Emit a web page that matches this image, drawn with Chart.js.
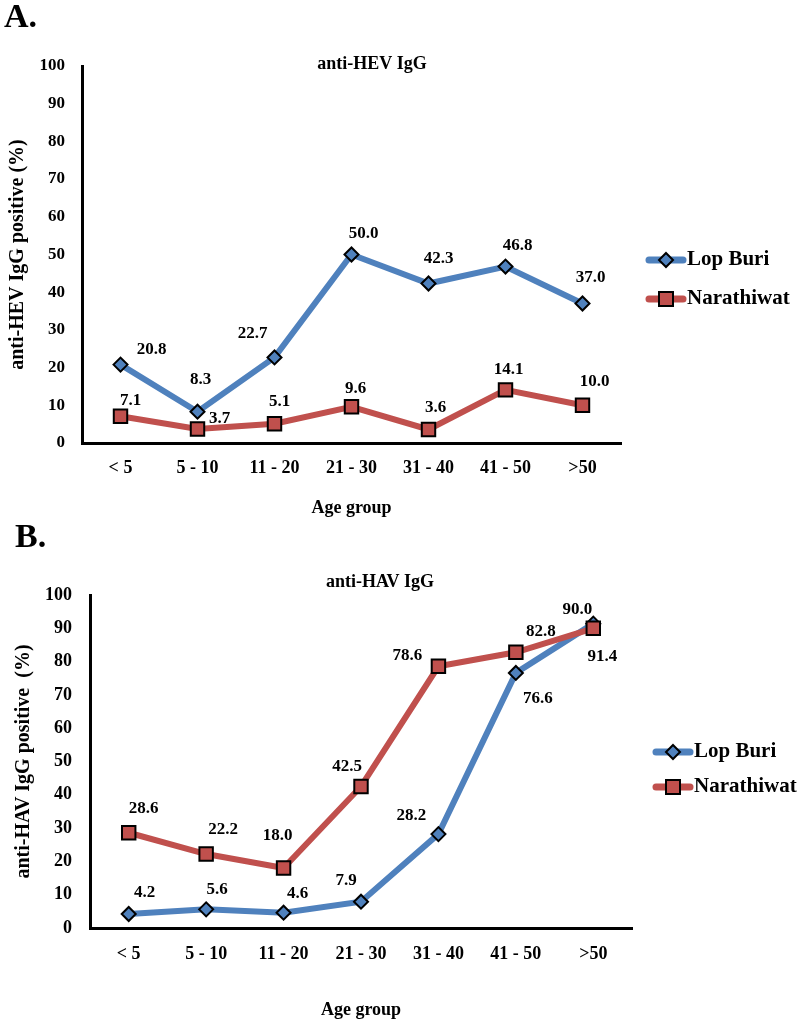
<!DOCTYPE html>
<html>
<head>
<meta charset="utf-8">
<script src="https://cdn.jsdelivr.net/npm/chart.js@4.4.0/dist/chart.umd.min.js"></script>
<style>
  body { margin: 0; background: #fff; }
  #wrap { position: relative; width: 800px; height: 1024px; }
  canvas { position: absolute; left: 0; }
</style>
</head>
<body>
<div id="wrap">
  <canvas id="chartA" width="800" height="520" style="top:0;width:800px;height:520px"></canvas>
  <canvas id="chartB" width="800" height="504" style="top:520px;width:800px;height:504px"></canvas>
</div>
<script>
// data
const ageGroups = ['< 5', '5 - 10', '11 - 20', '21 - 30', '31 - 40', '41 - 50', '>50'];
const seriesNames = ['Lop Buri', 'Narathiwat'];
const hevLopBuri = [20.8, 8.3, 22.7, 50.0, 42.3, 46.8, 37.0];
const hevNarathiwat = [7.1, 3.7, 5.1, 9.6, 3.6, 14.1, 10.0];
const havLopBuri = [4.2, 5.6, 4.6, 7.9, 28.2, 76.6, 91.4];
const havNarathiwat = [28.6, 22.2, 18.0, 42.5, 78.6, 82.8, 90.0];

// label placement (offset from point, px)
const hevLopOff = [[31,-15],[3,-32],[-22,-24],[12,-21],[10,-25],[12,-21],[8,-26]];
const hevNarOff = [[10,-16],[22,-10],[5,-22],[4,-18],[7,-22],[3,-20],[12,-24]];
const havLopOff = [[16,-21],[11,-20],[14,-19],[-15,-21],[-27,-18],[22,26],[9,33]];
const havNarOff = [[15,-24],[17,-24],[-6,-32],[-14,-20],[-31,-11],[25,-21],[-16,-19]];

const BLUE = '#4F81BD';
const RED = '#C0504D';
const FONT = '"Liberation Serif", "Times New Roman", serif';

function drawMarker(ctx, style, x, y, color) {
  ctx.save();
  ctx.fillStyle = color;
  ctx.strokeStyle = '#000';
  ctx.lineWidth = 2;
  ctx.beginPath();
  if (style === 'rectRot') {
    ctx.moveTo(x, y - 7); ctx.lineTo(x + 7, y); ctx.lineTo(x, y + 7); ctx.lineTo(x - 7, y);
    ctx.closePath();
  } else {
    ctx.rect(x - 7, y - 7, 14, 14);
  }
  ctx.fill();
  ctx.stroke();
  ctx.restore();
}

const decor = {
  id: 'decor',
  afterDraw(chart, args, o) {
    const ctx = chart.ctx;
    ctx.save();
    ctx.fillStyle = '#000';
    // panel letter
    ctx.font = 'bold 34px ' + FONT;
    ctx.textAlign = 'left';
    ctx.textBaseline = 'middle';
    ctx.fillText(o.letter, o.letterX, o.letterY);
    // title
    ctx.font = 'bold 18px ' + FONT;
    ctx.textAlign = 'center';
    ctx.fillText(o.title, o.titleX, o.titleY);
    // data labels
    ctx.font = 'bold 17px ' + FONT;
    chart.data.datasets.forEach((ds, di) => {
      const meta = chart.getDatasetMeta(di);
      meta.data.forEach((pt, i) => {
        const off = ds.labelOffsets[i];
        ctx.fillText(ds.data[i].toFixed(1), pt.x + off[0], pt.y + off[1]);
      });
    });
    // legend
    ctx.font = 'bold 21px ' + FONT;
    ctx.textAlign = 'left';
    chart.data.datasets.forEach((ds, di) => {
      const y = o.legendY[di];
      ctx.save();
      ctx.strokeStyle = ds.borderColor;
      ctx.lineWidth = 7;
      ctx.lineCap = 'round';
      ctx.beginPath();
      ctx.moveTo(o.legendX + 4, y);
      ctx.lineTo(o.legendX + 38, y);
      ctx.stroke();
      ctx.restore();
      drawMarker(ctx, ds.pointStyle, o.legendX + 21, y, ds.pointBackgroundColor);
      ctx.fillText(ds.label, o.legendX + 42, y);
    });
    ctx.restore();
  }
};

function makeChart(id, lop, nar, lopOff, narOff, box, yTitle, deco) {
  const H = document.getElementById(id).height;
  return new Chart(document.getElementById(id), {
    type: 'line',
    data: {
      labels: ageGroups,
      datasets: [{
        label: seriesNames[0],
        data: lop,
        labelOffsets: lopOff,
        borderColor: BLUE,
        borderWidth: 6,
        pointStyle: 'rectRot',
        pointRadius: 7,
        pointBackgroundColor: BLUE,
        pointBorderColor: '#000',
        pointBorderWidth: 2,
        tension: 0,
        order: 1
      }, {
        label: seriesNames[1],
        data: nar,
        labelOffsets: narOff,
        borderColor: RED,
        borderWidth: 6,
        pointStyle: 'rect',
        pointRadius: 9.5,
        pointBackgroundColor: RED,
        pointBorderColor: '#000',
        pointBorderWidth: 2,
        tension: 0,
        order: 0
      }]
    },
    options: {
      responsive: false,
      animation: false,
      layout: { padding: { top: box.top, right: 800 - box.right, bottom: 0, left: 0 } },
      plugins: {
        legend: { display: false },
        tooltip: { enabled: false },
        decor: deco
      },
      scales: {
        x: {
          offset: true,
          grid: { display: false, drawTicks: false },
          border: { display: true, color: '#000', width: 3 },
          ticks: { color: '#000', padding: box.xPad, font: { family: FONT, size: 18, weight: 'bold' } },
          title: { display: true, text: 'Age group', color: '#000', padding: { top: 0, bottom: box.xTitlePad },
                   font: { family: FONT, size: 18, weight: 'bold' } },
          afterFit(s) { s.height = H - box.bottom; }
        },
        y: {
          min: 0, max: 100,
          grid: { display: false, drawTicks: false },
          border: { display: true, color: '#000', width: 3 },
          ticks: { stepSize: 10, color: '#000', padding: box.yPad, font: { family: FONT, size: box.yFont, weight: 'bold' } },
          title: { display: true, text: yTitle, color: '#000', padding: { top: box.yTitlePad, bottom: 0 },
                   font: { family: FONT, size: 20, weight: 'bold' } },
          afterFit(s) { s.width = box.left; }
        }
      }
    },
    plugins: [decor]
  });
}

makeChart('chartA', hevLopBuri, hevNarathiwat, hevLopOff, hevNarOff,
  { top: 66, bottom: 443, left: 82, right: 621, xPad: 15, xTitlePad: 1, yPad: 17, yFont: 17, yTitlePad: 6 },
  'anti-HEV IgG positive (%)',
  { letter: 'A.', letterX: 4, letterY: 18, title: 'anti-HEV IgG', titleX: 372, titleY: 64,
    legendX: 645, legendY: [260, 299] });

makeChart('chartB', havLopBuri, havNarathiwat, havLopOff, havNarOff,
  { top: 75, bottom: 408, left: 90, right: 632, xPad: 16, xTitlePad: 3, yPad: 18, yFont: 18, yTitlePad: 12 },
  'anti-HAV IgG positive  (%)',
  { letter: 'B.', letterX: 15, letterY: 18, title: 'anti-HAV IgG', titleX: 380, titleY: 62,
    legendX: 652, legendY: [232, 267] });
</script>
</body>
</html>
